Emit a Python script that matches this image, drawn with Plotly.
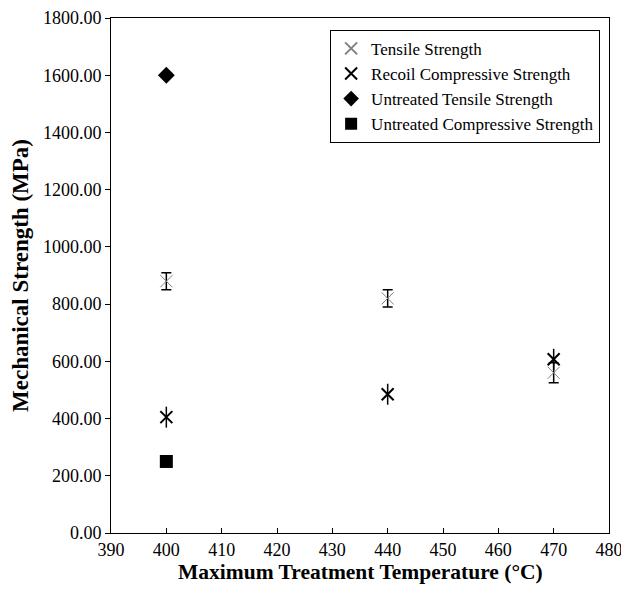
import plotly.graph_objects as go

temps_tensile = [400, 440, 470]
tensile = [880, 820, 560]
tensile_err = [30, 30, 35]
temps_recoil = [400, 440, 470]
recoil = [405, 485, 607]
untreated_tensile_x = [400]
untreated_tensile = [1600]
untreated_comp_x = [400]
untreated_comp = [250]

x_title = "<b>Maximum Treatment Temperature (°C)</b>"
y_title = "<b>Mechanical Strength (MPa)</b>"

font = "Liberation Serif, Times New Roman, serif"

fig = go.Figure()
fig.add_trace(go.Scatter(
    x=temps_tensile, y=tensile, mode="markers", name="Tensile Strength",
    marker=dict(symbol="x-thin-open", size=12, color="#808080", line=dict(width=1, color="#808080")),
    error_y=dict(type="data", array=tensile_err, color="black", thickness=1.5, width=5)))
fig.add_trace(go.Scatter(
    x=temps_recoil, y=recoil, mode="markers", name="Recoil Compressive Strength",
    legendgroup="recoil",
    marker=dict(symbol="x-thin-open", size=12, color="black", line=dict(width=2, color="black"))))
fig.add_trace(go.Scatter(
    x=temps_recoil, y=recoil, mode="markers", name="Recoil Compressive Strength",
    legendgroup="recoil", showlegend=False,
    marker=dict(symbol="line-ns-open", size=15, color="black", line=dict(width=1.5, color="black"))))
fig.add_trace(go.Scatter(
    x=untreated_tensile_x, y=untreated_tensile, mode="markers", name="Untreated Tensile Strength",
    marker=dict(symbol="diamond", size=13, color="black")))
fig.add_trace(go.Scatter(
    x=untreated_comp_x, y=untreated_comp, mode="markers", name="Untreated Compressive Strength",
    marker=dict(symbol="square", size=13, color="black")))

fig.update_layout(
    width=613, height=583,
    margin=dict(l=103, r=12, t=10, b=58),
    plot_bgcolor="white", paper_bgcolor="white",
    font=dict(family=font, size=18, color="black"),
    showlegend=True,
    legend=dict(x=0.44, y=0.977, xanchor="left", yanchor="top",
                bordercolor="black", borderwidth=1, bgcolor="white",
                font=dict(family=font, size=17), itemsizing="constant",
                tracegroupgap=0),
    xaxis=dict(range=[390, 480], dtick=10, tick0=390, showgrid=False, zeroline=False,
               showline=True, linecolor="black", linewidth=1, mirror=True,
               ticks="inside", ticklen=5, tickcolor="black", ticklabeloverflow="allow",
               automargin=False),
    yaxis=dict(range=[0, 1800], dtick=200, tickformat=".2f", showgrid=False, zeroline=False,
               showline=True, linecolor="black", linewidth=1, mirror=True,
               ticks="outside", ticklen=5, tickcolor="black", ticklabeloverflow="allow",
               automargin=False,
               title=dict(text=y_title, font=dict(size=23))),
    annotations=[dict(text=x_title, xref="paper", yref="paper", x=0.5, y=0,
                      xanchor="center", yanchor="middle", yshift=-39, showarrow=False,
                      font=dict(family=font, size=21.5, color="black"))],
)

fig.write_html("out.html")
